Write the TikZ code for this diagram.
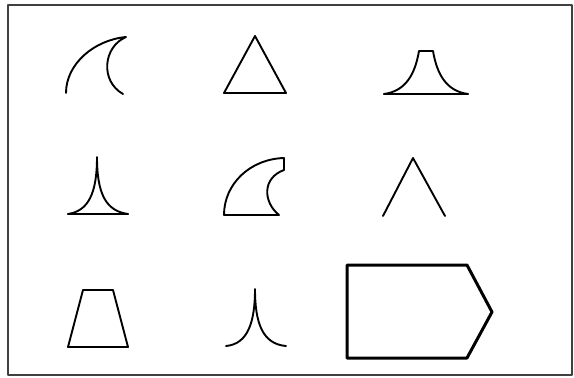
\documentclass[tikz,border=0pt]{standalone}
\usepackage{tikz}
\usetikzlibrary{calc}

\begin{document}
\begin{tikzpicture}[
  x=1pt, y=-1pt,
  line join=round,
  frame/.style={draw=black!75, line width=2pt},
  glyph/.style={draw=black, line width=1.9pt, line cap=round},
  heavy/.style={draw=black, line width=3pt},
]
\useasboundingbox (0,0) rectangle (574,378);
\draw[frame] (8,5) rectangle (572,375);
% row 1
\draw[glyph] (66,93) .. controls (66,64) and (94,40) .. (126,37)
             .. controls (103,47) and (100,81) .. (123,94);
\draw[glyph] (255,36) -- (286,93) -- (224,93) -- cycle;
\draw[glyph] (384,94) -- (468,94);
\draw[glyph] (384,94) .. controls (406,91) and (415,74) .. (419,51) -- (433,51)
             .. controls (437,74) and (446,91) .. (468,94);
% row 2
\draw[glyph] (68,214) -- (128,214);
\draw[glyph] (68,214) .. controls (88,211) and (97,194) .. (97,157)
             .. controls (97,194) and (106,211) .. (128,214);
\draw[glyph] (224,215) -- (279,215) .. controls (263,202) and (262,178) .. (284,170)
             -- (284,158) .. controls (250,159) and (224,184) .. cycle;
\draw[glyph] (383,216) -- (413,158) -- (445,216);
% row 3
\draw[glyph] (83,290) -- (113,290) -- (128,347) -- (68,347) -- cycle;
\draw[glyph] (226,346) .. controls (248,344) and (255,322) .. (255,289)
             .. controls (255,322) and (262,344) .. (286,346);
\draw[heavy] (347,265) -- (467,265) -- (492,312) -- (467,358) -- (347,358) -- cycle;
\end{tikzpicture}
\end{document}
